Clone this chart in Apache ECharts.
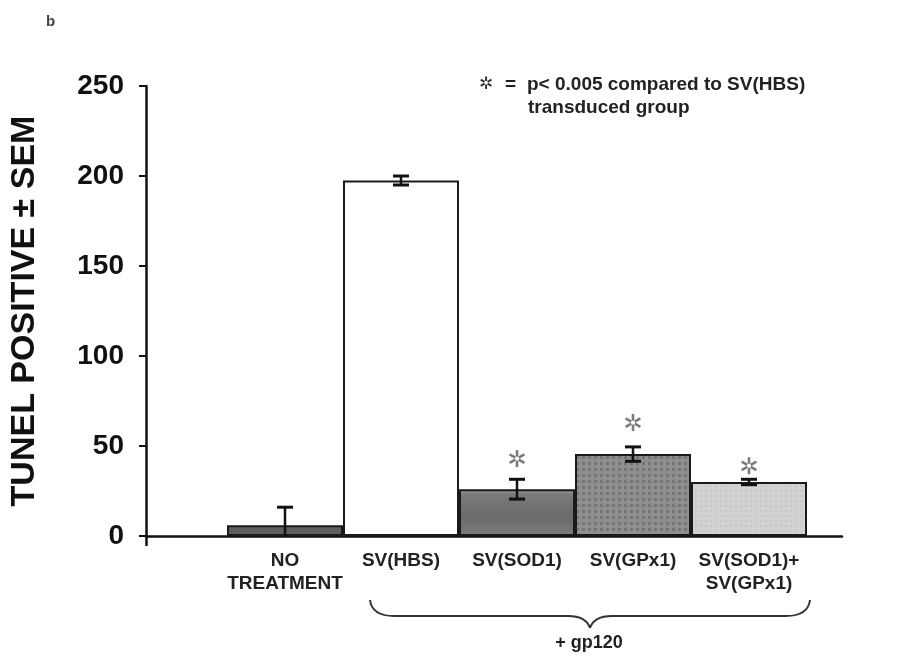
<!DOCTYPE html>
<html>
<head>
<meta charset="utf-8">
<script src="https://cdn.jsdelivr.net/npm/echarts@6/dist/echarts.min.js"></script>
<style>html,body{margin:0;padding:0;background:#fff}#c{width:897px;height:664px}</style>
</head>
<body>
<div id="c"></div>
<script>
// ---- data ----
var categories = ['NO\nTREATMENT', 'SV(HBS)', 'SV(SOD1)', 'SV(GPx1)', 'SV(SOD1)+\nSV(GPx1)'];
var meanValues = [6, 197.5, 26, 45.5, 30];
var semValues = [10, 2.5, 5.5, 4, 1.5];
var asteriskY = [null, null, 43, 63, 39];
var yMin = 0, yMax = 250, yStep = 50;
var yAxisTitle = 'TUNEL POSITIVE \u00b1 SEM';
var noteLine1 = 'p< 0.005 compared to SV(HBS)';
var noteLine2 = 'transduced group';
var groupLabel = '+ gp120';

// ---- styles ----
var FONT = '"Liberation Sans", Arial, sans-serif';
var barStyles = [
  {color: '#5f5f5f'},
  {color: '#ffffff'},
  {color: {type: 'linear', x: 0, y: 0, x2: 0, y2: 1, colorStops: [
    {offset: 0, color: '#9a9a9a'}, {offset: 0.12, color: '#7a7a7a'},
    {offset: 0.6, color: '#6a6a6a'}, {offset: 1, color: '#7c7c7c'}]}},
  {color: '#8e8e8e', decal: {symbol: 'rect', symbolSize: 1, dashArrayX: [3, 3], dashArrayY: [3, 3], color: 'rgba(70,70,70,0.35)'}},
  {color: '#d2d2d2', decal: {symbol: 'rect', symbolSize: 1, dashArrayX: [2, 3], dashArrayY: [2, 3], color: 'rgba(0,0,0,0.06)'}}
];

var chart = echarts.init(document.getElementById('c'), null, {renderer: 'canvas'});

var barData = meanValues.map(function (v, i) {
  var s = barStyles[i];
  var it = {color: s.color, borderColor: '#1a1a1a', borderWidth: 2};
  if (s.decal) it.decal = s.decal;
  return {value: v, itemStyle: it};
});

var errData = meanValues.map(function (v, i) { return [i, v, semValues[i]]; });
var astData = asteriskY.map(function (v, i) { return v == null ? null : [i, v]; }).filter(Boolean);

var braceStyle = {fill: 'none', stroke: '#333', lineWidth: 2};

var option = {
  backgroundColor: '#ffffff',
  animation: false,
  grid: [
    {left: 141, right: 55, top: 86, bottom: 128},
    {left: 227, right: 90, top: 86, bottom: 128}
  ],
  xAxis: [
    {gridIndex: 0, type: 'value', min: 0, max: 1,
      axisLine: {show: true, lineStyle: {color: '#111', width: 2.5}},
      axisTick: {show: true, customValues: [0], length: 10, lineStyle: {color: '#111', width: 2.5}},
      axisLabel: {show: false}, splitLine: {show: false}},
    {gridIndex: 1, type: 'category', data: categories,
      axisLine: {show: false}, axisTick: {show: false},
      axisLabel: {interval: 0, margin: 13, fontFamily: FONT, fontWeight: 'bold', fontSize: 19, lineHeight: 23, color: '#222'}}
  ],
  yAxis: [
    {gridIndex: 0, type: 'value', min: yMin, max: yMax, interval: yStep,
      axisLine: {show: true, onZero: false, lineStyle: {color: '#111', width: 2.5}},
      axisTick: {show: true, length: 7, lineStyle: {color: '#111', width: 2}},
      axisLabel: {margin: 22, fontFamily: FONT, fontWeight: 'bold', fontSize: 28, color: '#111'},
      splitLine: {show: false},
      name: yAxisTitle, nameLocation: 'middle', nameGap: 104,
      nameTextStyle: {fontFamily: FONT, fontWeight: 'bold', fontSize: 34, color: '#111'}},
    {gridIndex: 1, type: 'value', min: yMin, max: yMax, interval: yStep, show: false}
  ],
  series: [
    {type: 'bar', xAxisIndex: 1, yAxisIndex: 1, data: barData, barWidth: '100%', barCategoryGap: 0, z: 3},
    {type: 'custom', xAxisIndex: 1, yAxisIndex: 1, data: errData, z: 5, clip: true,
      renderItem: function (params, api) {
        var i = api.value(0), m = api.value(1), e = api.value(2);
        var top = api.coord([i, m + e]);
        var bot = api.coord([i, m - e]);
        var hw = 8;
        return {type: 'group', children: [
          {type: 'line', shape: {x1: top[0], y1: top[1], x2: bot[0], y2: bot[1]}, style: {stroke: '#111', lineWidth: 2.5}},
          {type: 'line', shape: {x1: top[0] - hw, y1: top[1], x2: top[0] + hw, y2: top[1]}, style: {stroke: '#111', lineWidth: 3}},
          {type: 'line', shape: {x1: bot[0] - hw, y1: bot[1], x2: bot[0] + hw, y2: bot[1]}, style: {stroke: '#111', lineWidth: 3}}
        ]};
      }},
    {type: 'custom', xAxisIndex: 1, yAxisIndex: 1, data: astData, z: 6,
      renderItem: function (params, api) {
        var p = api.coord([api.value(0), api.value(1)]);
        var kids = [];
        [90, 30, 150, 210, 270, 330].forEach(function (a) {
          var r = a * Math.PI / 180;
          kids.push({type: 'line', shape: {
            x1: p[0] + Math.cos(r) * 2, y1: p[1] - Math.sin(r) * 2,
            x2: p[0] + Math.cos(r) * 8.5, y2: p[1] - Math.sin(r) * 8.5},
            style: {stroke: '#7a7a7a', lineWidth: 2.6}});
        });
        return {type: 'group', children: kids};
      }}
  ],
  graphic: [
    {type: 'text', x: 46, y: 14, style: {text: 'b', font: 'bold 15px ' + FONT, fill: '#444'}},
    {type: 'text', x: 486, y: 85, style: {text: '\u2732', font: 'bold 17px "DejaVu Sans"', fill: '#333', align: 'center', verticalAlign: 'middle'}},
    {type: 'text', x: 505, y: 85, style: {text: '=', font: 'bold 19px ' + FONT, fill: '#222', verticalAlign: 'middle'}},
    {type: 'text', x: 527, y: 85, style: {text: noteLine1, font: 'bold 19px ' + FONT, fill: '#222', verticalAlign: 'middle'}},
    {type: 'text', x: 528, y: 108, style: {text: noteLine2, font: 'bold 19px ' + FONT, fill: '#222', verticalAlign: 'middle'}},
    {type: 'bezierCurve', shape: {x1: 370, y1: 600, cpx1: 372, cpy1: 616, x2: 394, y2: 616}, style: braceStyle},
    {type: 'line', shape: {x1: 394, y1: 616, x2: 568, y2: 616}, style: braceStyle},
    {type: 'bezierCurve', shape: {x1: 568, y1: 616, cpx1: 586, cpy1: 616, x2: 590, y2: 628}, style: braceStyle},
    {type: 'bezierCurve', shape: {x1: 590, y1: 628, cpx1: 594, cpy1: 616, x2: 612, y2: 616}, style: braceStyle},
    {type: 'line', shape: {x1: 612, y1: 616, x2: 786, y2: 616}, style: braceStyle},
    {type: 'bezierCurve', shape: {x1: 786, y1: 616, cpx1: 808, cpy1: 616, x2: 810, y2: 600}, style: braceStyle},
    {type: 'text', x: 589, y: 643, style: {text: groupLabel, font: 'bold 18px ' + FONT, fill: '#222', align: 'center', verticalAlign: 'middle'}}
  ]
};
chart.setOption(option);
</script>
</body>
</html>
